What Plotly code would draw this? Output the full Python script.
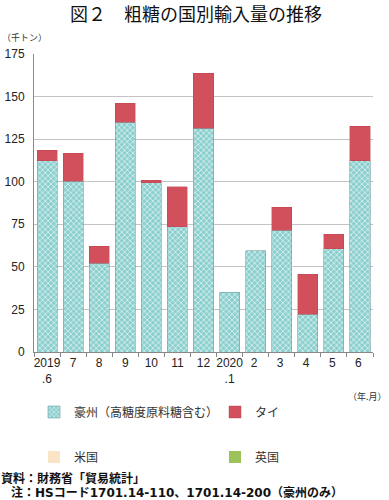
import plotly.graph_objects as go

categories = ["2019<br>.6", "7", "8", "9", "10", "11", "12", "2020<br>.1", "2 ", "3 ", "4 ", "5 ", "6 "]
australia = [112.3, 100.2, 52.0, 135.0, 99.5, 73.6, 131.3, 35.0, 59.5, 71.6, 22.1, 60.5, 112.3]
thailand = [6.3, 16.5, 10.2, 11.0, 1.5, 23.3, 32.3, None, None, 13.4, 23.5, 8.6, 20.4]
usa = [None] * 13
uk = [None] * 13
yticks = [0, 25, 50, 75, 100, 125, 150, 175]

W, H = 389, 500
L, R, T, B = 34, 16, 54, 148
pw, ph = W - L - R, H - T - B

def px(x):
    return (x - L) / pw

def py(y):
    return (H - B - y) / ph

FONT = "Noto Sans CJK JP"
LEGFONT = dict(size=12, family=FONT, color="#333")

fig = go.Figure()
fig.add_bar(x=categories, y=australia, name="豪州（高糖度原料糖含む）",
            marker=dict(color="#8ccfcf",
                        line=dict(color="#6f9fa3", width=0.6),
                        pattern=dict(shape="x", fgcolor="white", size=4, solidity=0.35,
                                     fillmode="overlay", fgopacity=0.75)),
            legend="legend")
fig.add_bar(x=categories, y=thailand, name="タイ",
            marker=dict(color="#d1505b", line=dict(color="#b8404a", width=0.4)),
            legend="legend2")
fig.add_bar(x=categories, y=usa, name="米国",
            marker=dict(color="#fbe4c6", line=dict(width=0)),
            legend="legend3")
fig.add_bar(x=categories, y=uk, name="英国",
            marker=dict(color="#9cc35a", line=dict(width=0)),
            legend="legend4")

def leg(xp, yp):
    return dict(x=xp / W, y=1 - yp / H, xref="container", yref="container",
                xanchor="left", yanchor="middle", font=LEGFONT,
                bgcolor="rgba(0,0,0,0)", borderwidth=0)

fig.update_layout(
    width=W, height=H,
    margin=dict(l=L, r=R, t=T, b=B, pad=0, autoexpand=False),
    barmode="stack", bargap=0.23,
    plot_bgcolor="white", paper_bgcolor="white",
    font=dict(family=FONT, size=12, color="#222"),
    xaxis=dict(type="category", showline=True, linecolor="#888", linewidth=1,
               ticks="outside", ticklen=4, tickcolor="#888", tickson="boundaries",
               tickangle=0, showgrid=False,
               tickfont=dict(size=12, family="Liberation Sans", color="#222")),
    yaxis=dict(range=[0, 175], tickvals=yticks, showline=True, linecolor="#888", linewidth=1,
               showgrid=True, gridcolor="#c4c4c4", gridwidth=1, ticks="", ticklabelstandoff=6,
               tickfont=dict(size=12, family="Liberation Sans", color="#222"), zeroline=False),
    legend=leg(34, 412),
    legend2=leg(215, 412),
    legend3=leg(34, 457),
    legend4=leg(215, 457),
    showlegend=True,
)

fig.add_annotation(text="図２　粗糖の国別輸入量の推移", xref="paper", yref="paper",
                   x=px(196), y=py(13), xanchor="center", yanchor="middle", showarrow=False,
                   font=dict(size=18, family=FONT, color="#111"))
fig.add_annotation(text="（千トン）", xref="paper", yref="paper", x=px(0), y=py(37),
                   xanchor="left", yanchor="middle", showarrow=False,
                   font=dict(size=9, family=FONT, color="#333"))
fig.add_annotation(text="（年.月）", xref="paper", yref="paper", x=px(389), y=py(396),
                   xanchor="right", yanchor="middle", showarrow=False,
                   font=dict(size=9, family=FONT, color="#333"))
fig.add_annotation(text="<b>資料：財務省「貿易統計」</b>", xref="paper", yref="paper", x=px(0), y=py(477),
                   xanchor="left", yanchor="middle", showarrow=False, borderpad=0,
                   font=dict(size=12, family=FONT, color="#111"))
fig.add_annotation(text="<b>注：HSコード1701.14-110、1701.14-200（豪州のみ）</b>", xref="paper", yref="paper",
                   x=px(10), y=py(492), xanchor="left", yanchor="middle", showarrow=False, borderpad=0,
                   font=dict(size=12, family="DejaVu Sans, Noto Sans CJK JP", color="#111"))

fig.write_html("out.html", config={"displayModeBar": False},
               post_script="document.body.style.margin='0';document.body.style.overflow='hidden';")
